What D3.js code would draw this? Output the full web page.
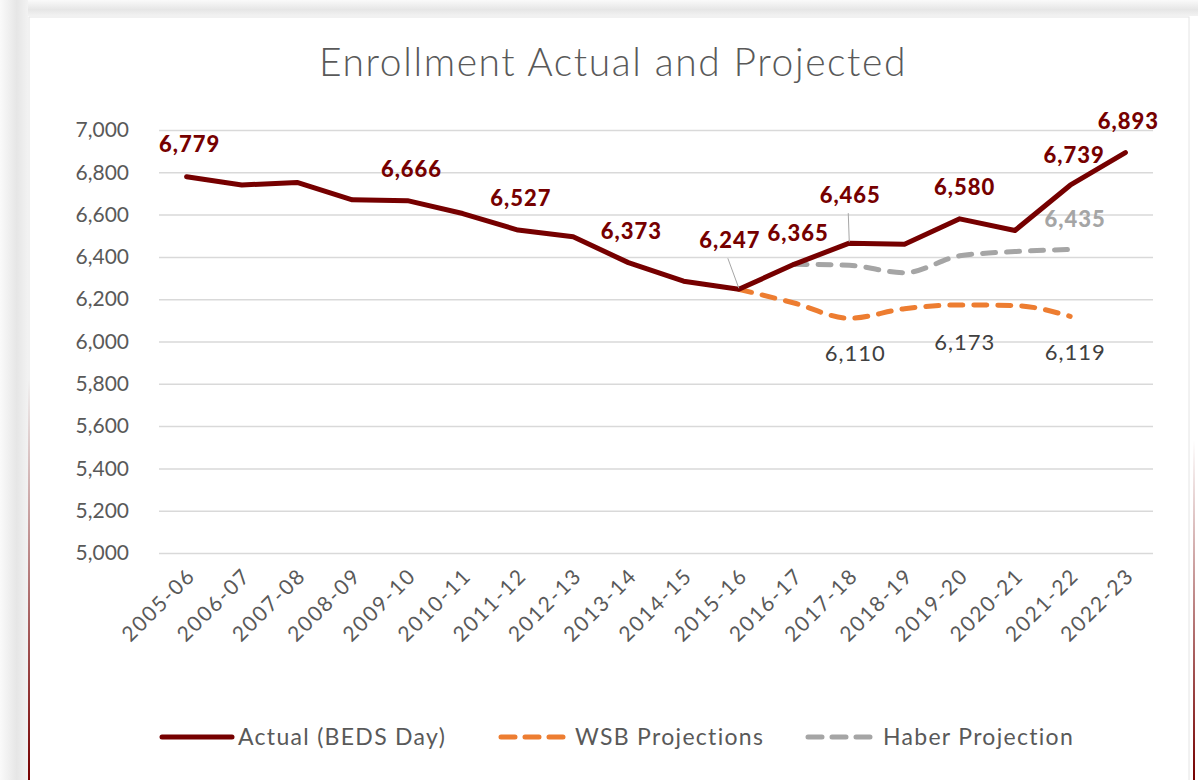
<!DOCTYPE html>
<html>
<head>
<meta charset="utf-8">
<script src="https://cdn.jsdelivr.net/npm/d3@7"></script>
<style>
  body { margin: 0; background: #fff; }
  svg text { font-family: Lato, "Open Sans", sans-serif; }
</style>
</head>
<body>
<div id="chart"></div>
<script>
// data
const years = ["2005-06", "2006-07", "2007-08", "2008-09", "2009-10", "2010-11", "2011-12",
    "2012-13", "2013-14", "2014-15", "2015-16", "2016-17", "2017-18", "2018-19", "2019-20",
    "2020-21", "2021-22", "2022-23"]
const actual = [6779, 6740, 6752, 6670, 6666, 6605, 6527, 6495, 6373, 6285, 6247, 6365, 6465,
    6460, 6580, 6525, 6739, 6893]
const wsbYears = ["2015-16", "2016-17", "2017-18", "2018-19", "2019-20", "2020-21", "2021-22"]
const wsb = [6247, 6182, 6110, 6155, 6173, 6170, 6119]
const haberYears = ["2016-17", "2017-18", "2018-19", "2019-20", "2020-21", "2021-22"]
const haber = [6365, 6360, 6325, 6405, 6425, 6435]
const yTicks = [5000, 5200, 5400, 5600, 5800, 6000, 6200, 6400, 6600, 6800, 7000]

// labels shown on the chart: [year, value, dx, dy, leader]
const actualLabels = [
    ["2005-06", 6779, 3, -32, false],
    ["2009-10", 6666, 4, -31, false],
    ["2011-12", 6527, 3, -32, false],
    ["2013-14", 6373, 3, -31, false],
    ["2015-16", 6247, -9, -49, true],
    ["2016-17", 6365, 4, -31, false],
    ["2017-18", 6465, 1, -48, true],
    ["2019-20", 6580, 5, -32, false],
    ["2021-22", 6739, 4, -30, false],
    ["2022-23", 6893, 3, -31, false]
]
const wsbLabels = [["2017-18", 6110, 6, 35], ["2019-20", 6173, 5, 37], ["2021-22", 6119, 5, 36]]
const haberLabels = [["2021-22", 6435, 5, -30]]

const RED = "#760000", ORANGE = "#ED7D31", GRAY = "#A5A5A5", TEXT = "#595959"

const W = 1198, H = 780
const svg = d3.select("#chart").append("svg")
    .attr("width", W)
    .attr("height", H)

// slide frame / shadow
const defs = svg.append("defs")
const fadeV = defs.append("linearGradient").attr("id", "fadeV")
    .attr("x1", 0).attr("y1", 0).attr("x2", 0).attr("y2", 1)
fadeV.append("stop").attr("offset", "0%").attr("stop-color", RED).attr("stop-opacity", 0)
fadeV.append("stop").attr("offset", "100%").attr("stop-color", RED).attr("stop-opacity", 1)
const shadowL = defs.append("linearGradient").attr("id", "shadowL")
shadowL.append("stop").attr("offset", "0%").attr("stop-color", "#fafafa")
shadowL.append("stop").attr("offset", "60%").attr("stop-color", "#e6e6e6")
shadowL.append("stop").attr("offset", "100%").attr("stop-color", "#f2f2f2")
const shadowT = defs.append("linearGradient").attr("id", "shadowT")
    .attr("x1", 0).attr("y1", 0).attr("x2", 0).attr("y2", 1)
shadowT.append("stop").attr("offset", "0%").attr("stop-color", "#fafafa")
shadowT.append("stop").attr("offset", "60%").attr("stop-color", "#e6e6e6")
shadowT.append("stop").attr("offset", "100%").attr("stop-color", "#f2f2f2")

svg.append("rect").attr("x", 0).attr("y", 0).attr("width", W).attr("height", 16).attr("fill", "url(#shadowT)")
svg.append("rect").attr("x", 0).attr("y", 0).attr("width", 28).attr("height", H).attr("fill", "url(#shadowL)")
svg.append("rect").attr("x", 29).attr("y", 17).attr("width", 1160).attr("height", H)
    .attr("fill", "#fff").attr("stroke", "#e4e4e4")
svg.append("rect").attr("x", 28).attr("y", 380).attr("width", 2).attr("height", 400).attr("fill", "url(#fadeV)")
svg.append("rect").attr("x", 1193).attr("y", 440).attr("width", 2).attr("height", 340).attr("fill", "url(#fadeV)")

// plot area
const margin = { top: 130, left: 159, right: 45, bottom: 227 }
const width = W - margin.left - margin.right
const height = H - margin.top - margin.bottom
const g = svg.append("g").attr("transform", "translate(" + margin.left + "," + margin.top + ")")

const x = d3.scaleBand().domain(years).range([0, width])
const cx = d => x(d) + x.bandwidth() / 2
const y = d3.scaleLinear().domain([5000, 7000]).range([height, 0])

// title
svg.append("text")
    .attr("x", 613).attr("y", 76)
    .attr("text-anchor", "middle")
    .attr("font-size", "39px")
    .attr("font-weight", 300)
    .attr("letter-spacing", "1.6px")
    .attr("fill", TEXT)
    .text("Enrollment Actual and Projected")

// gridlines + y axis
const yAxis = d3.axisLeft(y).tickValues(yTicks).tickSize(-width).tickPadding(30)
    .tickFormat(d3.format(","))
g.append("g").attr("class", "y-axis").call(yAxis)
    .call(a => a.select(".domain").remove())
    .call(a => a.selectAll("line").attr("stroke", "#d9d9d9").attr("stroke-width", 1.5))
    .call(a => a.selectAll("text").attr("fill", TEXT).attr("font-size", "21px")
        .attr("font-family", "Lato, 'Open Sans', sans-serif"))

// x axis labels
const xAxis = d3.axisBottom(x).tickSize(0).tickPadding(0)
g.append("g").attr("class", "x-axis")
    .attr("transform", "translate(0," + height + ")")
    .call(xAxis)
    .call(a => a.select(".domain").remove())
    .call(a => a.selectAll("text")
        .attr("fill", TEXT)
        .attr("font-size", "21px")
        .attr("letter-spacing", "1.8px")
        .attr("font-family", "Lato, 'Open Sans', sans-serif")
        .attr("text-anchor", "end")
        .attr("dy", 0)
        .attr("transform", "translate(10,24) rotate(-45)"))

// lines
const straight = d3.line().x(d => cx(d[0])).y(d => y(d[1]))
const smooth = d3.line().x(d => cx(d[0])).y(d => y(d[1])).curve(d3.curveMonotoneX)

g.append("path")
    .datum(d3.zip(wsbYears, wsb))
    .attr("d", smooth)
    .attr("fill", "none")
    .attr("stroke", ORANGE)
    .attr("stroke-width", 5)
    .attr("stroke-linecap", "round")
    .attr("stroke-dasharray", "13,11")

g.append("path")
    .datum(d3.zip(haberYears, haber))
    .attr("d", smooth)
    .attr("fill", "none")
    .attr("stroke", GRAY)
    .attr("stroke-width", 5)
    .attr("stroke-linecap", "round")
    .attr("stroke-dasharray", "13,11")

g.append("path")
    .datum(d3.zip(years, actual))
    .attr("d", straight)
    .attr("fill", "none")
    .attr("stroke", RED)
    .attr("stroke-width", 5)
    .attr("stroke-linecap", "round")
    .attr("stroke-linejoin", "round")

// data labels
actualLabels.forEach(l => {
    const px = cx(l[0]), py = y(l[1])
    if (l[4]) {
        g.append("line")
            .attr("x1", px + l[2] - 2).attr("y1", py + l[3] + 18)
            .attr("x2", px).attr("y2", py - 1)
            .attr("stroke", "#a6a6a6").attr("stroke-width", 1)
    }
    g.append("text")
        .attr("x", px + l[2]).attr("y", py + l[3])
        .attr("dy", "0.35em")
        .attr("text-anchor", "middle")
        .attr("font-size", "22px")
        .attr("font-weight", 900)
        .attr("letter-spacing", "1px")
        .attr("fill", RED)
        .text(d3.format(",")(l[1]))
})

wsbLabels.forEach(l => {
    g.append("text")
        .attr("x", cx(l[0]) + l[2]).attr("y", y(l[1]) + l[3])
        .attr("dy", "0.35em")
        .attr("text-anchor", "middle")
        .attr("font-size", "22px")
        .attr("letter-spacing", "1px")
        .attr("fill", "#404040")
        .text(d3.format(",")(l[1]))
})

haberLabels.forEach(l => {
    g.append("text")
        .attr("x", cx(l[0]) + l[2]).attr("y", y(l[1]) + l[3])
        .attr("dy", "0.35em")
        .attr("text-anchor", "middle")
        .attr("font-size", "22px")
        .attr("font-weight", 900)
        .attr("letter-spacing", "1px")
        .attr("fill", GRAY)
        .text(d3.format(",")(l[1]))
})

// legend
const legendItems = [
    { name: "Actual (BEDS Day)", color: RED, dash: null, x1: 162, x2: 232, tx: 238 },
    { name: "WSB Projections", color: ORANGE, dash: "14,10", x1: 501, x2: 563, tx: 575 },
    { name: "Haber Projection", color: GRAY, dash: "14,10", x1: 808, x2: 870, tx: 883 }
]
const legend = svg.append("g").attr("class", "legend")
legend.selectAll("line")
    .data(legendItems)
    .enter().append("line")
    .attr("x1", d => d.x1).attr("x2", d => d.x2)
    .attr("y1", 737).attr("y2", 737)
    .attr("stroke", d => d.color)
    .attr("stroke-width", 5)
    .attr("stroke-linecap", "round")
    .attr("stroke-dasharray", d => d.dash)
legend.selectAll("text")
    .data(legendItems)
    .enter().append("text")
    .attr("x", d => d.tx).attr("y", 737)
    .attr("dy", "0.35em")
    .attr("font-size", "23px")
    .attr("letter-spacing", "1.3px")
    .attr("fill", TEXT)
    .text(d => d.name)
</script>
</body>
</html>
